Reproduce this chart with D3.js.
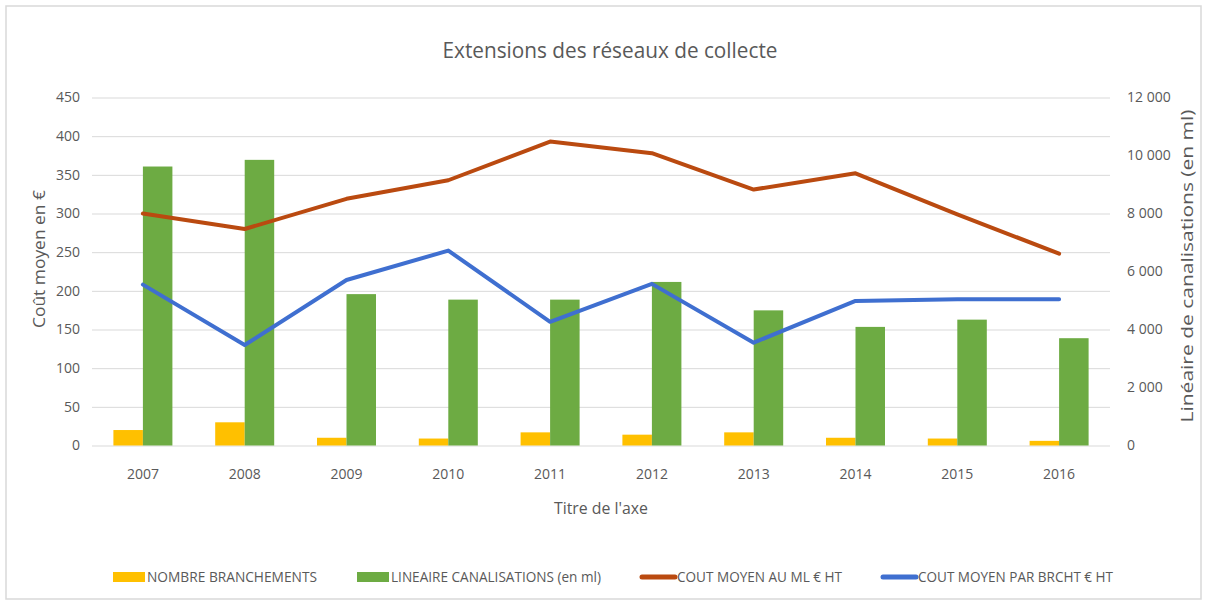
<!DOCTYPE html>
<html><head><meta charset="utf-8">
<script src="https://cdn.jsdelivr.net/npm/d3@7"></script>
<style>
body{margin:0;background:#fff;}
text{font-family:"Liberation Sans Narrow","Open Sans",sans-serif;fill:#595959;}
</style></head>
<body><svg id="c" width="1207" height="605"></svg>
<script>
const years = ["2007","2008","2009","2010","2011","2012","2013","2014","2015","2016"];
const branchements = [20,30,10,9,17,14,17,10,9,6];
const lineaire = [9620,9850,5220,5030,5030,5640,4660,4090,4340,3700];
const coutML = [300,280,319,343,393,378,331,352,299,248];
const coutBrcht = [208,130,214,252,160,209,133,187,189,189];
const leftTicks = [0,50,100,150,200,250,300,350,400,450];
const rightTicks = [0,2000,4000,6000,8000,10000,12000];
const seriesNames = ["NOMBRE BRANCHEMENTS","LINEAIRE CANALISATIONS (en ml)","COUT MOYEN AU ML € HT","COUT MOYEN PAR BRCHT € HT"];
const colors = ["#FFC000","#6DAB43","#BA4A10","#3F6FD0"];

const svg = d3.select("#c");
const L=92, R=1110, T=97.5, B=445.5;
svg.append("rect").attr("x",6).attr("y",6).attr("width",1195).attr("height",593)
  .attr("fill","none").attr("stroke","#d9d9d9").attr("stroke-width",1.5);

const x = d3.scaleBand().domain(years).range([L,R]);
const yL = d3.scaleLinear().domain([0,450]).range([B,T]);
const yR = d3.scaleLinear().domain([0,12000]).range([B,T]);

const gl = svg.append("g").call(d3.axisLeft(yL).tickValues(leftTicks).tickSize(-(R-L)).tickFormat(d=>d).tickPadding(12))
  .attr("transform",`translate(${L},0)`);
gl.select(".domain").remove();
gl.selectAll("line").attr("stroke","#d9d9d9").attr("stroke-width",1);
gl.selectAll("text").style("font-size","14px").style("fill","#595959").style("font-family",'"Liberation Sans Narrow","Open Sans",sans-serif');

const gr = svg.append("g").attr("transform",`translate(${R},0)`)
  .call(d3.axisRight(yR).tickValues(rightTicks).tickSize(0).tickPadding(17)
    .tickFormat(d=>d3.format(",")(d).replace(/,/g," ")));
gr.select(".domain").remove();
gr.selectAll("text").style("font-size","14px").style("fill","#595959").style("font-family",'"Liberation Sans Narrow","Open Sans",sans-serif');

const gx = svg.append("g").attr("transform",`translate(0,${B})`)
  .call(d3.axisBottom(x).tickSize(0).tickPadding(24));
gx.select(".domain").remove();
gx.selectAll("text").style("font-size","14px").style("fill","#595959").style("font-family",'"Liberation Sans Narrow","Open Sans",sans-serif');

const bw = 29.5;
svg.append("g").selectAll("rect").data(years).join("rect")
  .attr("x",(d)=>x(d)+x.bandwidth()/2-bw).attr("width",bw)
  .attr("y",(d,i)=>yL(branchements[i])).attr("height",(d,i)=>B-yL(branchements[i]))
  .attr("fill",colors[0]);
svg.append("g").selectAll("rect").data(years).join("rect")
  .attr("x",(d)=>x(d)+x.bandwidth()/2).attr("width",bw)
  .attr("y",(d,i)=>yR(lineaire[i])).attr("height",(d,i)=>B-yR(lineaire[i]))
  .attr("fill",colors[1]);

const line = d3.line().x((d,i)=>x(years[i])+x.bandwidth()/2).y(d=>yL(d));
svg.append("path").datum(coutML).attr("d",line).attr("fill","none")
  .attr("stroke",colors[2]).attr("stroke-width",4).attr("stroke-linejoin","round").attr("stroke-linecap","round");
svg.append("path").datum(coutBrcht).attr("d",line).attr("fill","none")
  .attr("stroke",colors[3]).attr("stroke-width",4).attr("stroke-linejoin","round").attr("stroke-linecap","round");

svg.append("text").attr("x",610).attr("y",58).attr("text-anchor","middle")
  .attr("textLength",335).attr("lengthAdjust","spacingAndGlyphs")
  .style("font-size","22px").text("Extensions des réseaux de collecte");
svg.append("text").attr("x",601).attr("y",514).attr("text-anchor","middle")
  .attr("textLength",94).attr("lengthAdjust","spacingAndGlyphs")
  .style("font-size","16px").text("Titre de l'axe");
svg.append("text").attr("transform","translate(45,259) rotate(-90)").attr("text-anchor","middle")
  .attr("textLength",138).attr("lengthAdjust","spacingAndGlyphs")
  .style("font-size","16px").style("font-family","'Open Sans',sans-serif").text("Coût moyen en €");
svg.append("text").attr("transform","translate(1193,266) rotate(-90)").attr("text-anchor","middle")
  .attr("textLength",313).attr("lengthAdjust","spacingAndGlyphs")
  .style("font-size","16px").style("font-family","'Open Sans',sans-serif").text("Linéaire de canalisations (en ml)");

const legX = [113,357,640,881];
const legTW = [170,210,165,195];
const lg = svg.append("g");
seriesNames.forEach((n,i)=>{
  if(i<2){
    lg.append("rect").attr("x",legX[i]).attr("y",572).attr("width",32).attr("height",10).attr("fill",colors[i]);
  } else {
    lg.append("line").attr("x1",legX[i]+2).attr("x2",legX[i]+35).attr("y1",577).attr("y2",577)
      .attr("stroke",colors[i]).attr("stroke-width",5).attr("stroke-linecap","round");
  }
  lg.append("text").attr("x",legX[i]+(i<2?34:37)).attr("y",582)
    .attr("textLength",legTW[i]).attr("lengthAdjust","spacingAndGlyphs")
    .style("font-size","14px").text(n);
});
</script></body></html>
